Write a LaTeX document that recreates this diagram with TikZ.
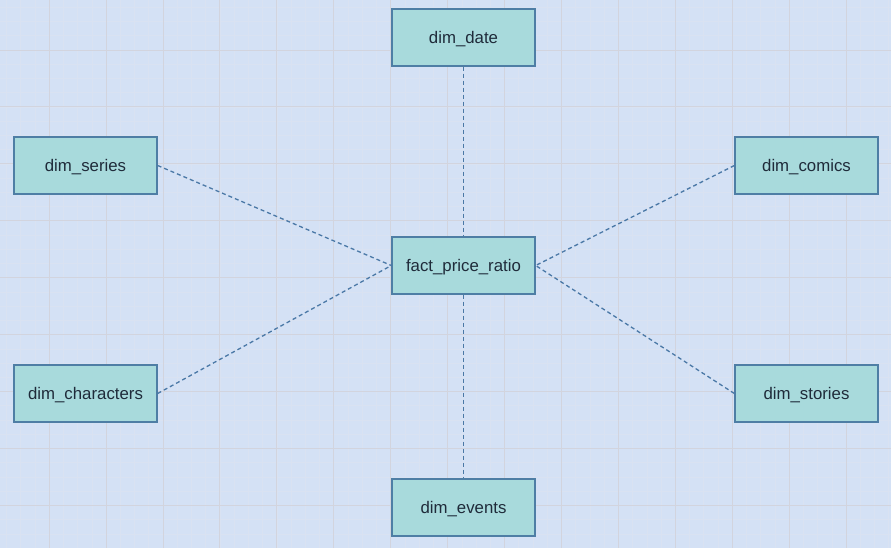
\documentclass[tikz,border=0pt]{standalone}
\usepackage{fontspec}
\setmainfont{Liberation Sans}
\usetikzlibrary{positioning}

\definecolor{canvas}{HTML}{D4E1F5}
\definecolor{gridmajor}{HTML}{D2D4DE}
\definecolor{gridminor}{HTML}{D9E2F2}
\definecolor{tablefill}{HTML}{A8DADC}
\definecolor{tableline}{HTML}{4E7EA5}
\definecolor{linkline}{HTML}{4A78A6}
\definecolor{tabletext}{HTML}{1F2B3A}

\begin{document}
\begin{tikzpicture}[
    x=1pt, y=-1pt,
    node distance=228pt,
    table/.style={rectangle, minimum width=143pt, minimum height=57pt, inner sep=0pt, text depth=1pt, text centered, draw=tableline, line width=1.3pt, fill=tablefill, text=tabletext, font=\fontsize{16.8}{20}\selectfont},
    link/.style={draw=linkline, line width=1.3pt, dash pattern=on 4pt off 3pt},
    minorgrid/.style={draw=gridminor, line width=0.6pt},
    majorgrid/.style={draw=gridmajor, line width=0.9pt}
]
\useasboundingbox (0,0) rectangle (891,548);

% canvas and grid
\begin{scope}
\clip (0,0) rectangle (891,548);
\fill[canvas] (0,0) rectangle (891,548);
\foreach \i in {1,...,63} {\draw[minorgrid] ({-7.76+\i*14.23},0) -- ++(0,548);}
\foreach \j in {1,...,39} {\draw[minorgrid] (0,{-6.92+\j*14.23}) -- ++(891,0);}
\foreach \i in {1,...,16} {\draw[majorgrid] ({-7.76+\i*56.92},0) -- ++(0,548);}
\foreach \j in {1,...,10} {\draw[majorgrid] (0,{-6.92+\j*56.92}) -- ++(891,0);}
\end{scope}

\node (fact) [table] at (463.5,265.5) {fact\_price\_ratio};
\node (date) [table, above of=fact] {dim\_date};
\node (events) [table, below of=fact, yshift=-14pt] {dim\_events};
\node (series) [table, left of=fact, xshift=-150pt, yshift=100pt] {dim\_series};
\node (characters) [table, left of=fact, xshift=-150pt, yshift=-128pt] {dim\_characters};
\node (comics) [table, right of=fact, xshift=115pt, yshift=100pt] {dim\_comics};
\node (stories) [table, right of=fact, xshift=115pt, yshift=-128pt] {dim\_stories};

\draw [link] (date) -- (fact);
\draw [link] (fact) -- (events);
\draw [link] (series.east) -- (fact.west);
\draw [link] (characters.east) -- (fact.west);
\draw [link] (comics.west) -- (fact.east);
\draw [link] (stories.west) -- (fact.east);

\end{tikzpicture}
\end{document}
